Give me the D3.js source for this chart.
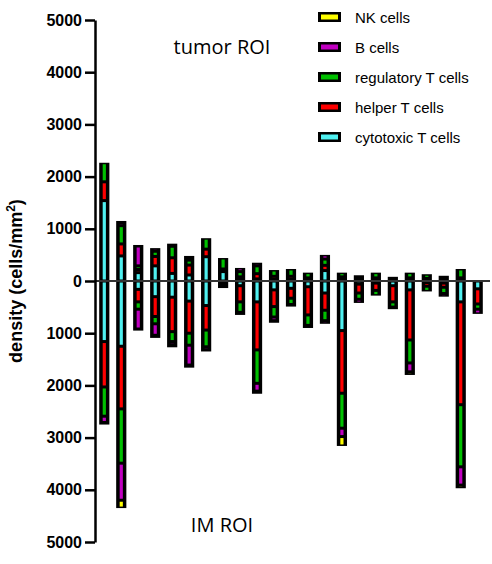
<!DOCTYPE html>
<html><head><meta charset="utf-8">
<script src="https://cdn.jsdelivr.net/npm/d3@7"></script>
<style>body{margin:0;background:#fff}</style></head>
<body><svg id="c" width="492" height="564"></svg>
<script>
const cellTypes = ["cytotoxic T cells","helper T cells","regulatory T cells","B cells","NK cells"];
const colors = ["#4ff0f0","#ff0000","#00c000","#c000c0","#ffff00"];
const samples = d3.range(1,24).map(String);
// tumor ROI (up) per sample: [cytotoxic, helper, regulatory, B, NK]
const tumor = [
 [1540,360,365,0,0],[480,230,350,60,30],[160,60,70,380,20],[290,180,100,60,0],
 [145,300,220,50,0],[115,190,95,50,30],[465,145,210,0,0],[180,50,210,0,0],
 [40,40,100,70,0],[40,100,150,60,0],[30,60,120,0,0],[30,60,140,0,0],
 [20,40,100,0,0],[200,100,120,80,0],[30,50,80,0,0],[30,30,50,0,0],
 [20,40,100,0,0],[30,20,30,0,0],[20,40,100,0,0],[20,30,80,0,0],
 [20,30,50,0,0],[20,40,170,0,0],[0,0,0,0,0]];
// IM ROI (down)
const im = [
 [1160,870,560,120,40],[1250,1200,1040,710,150],[160,240,140,380,30],[300,380,140,220,50],
 [310,660,190,60,50],[385,615,230,380,50],[470,470,320,60,30],[30,50,55,0,0],
 [90,310,200,50,0],[400,920,640,150,50],[170,320,200,70,40],[140,190,120,40,0],
 [110,540,200,50,0],[230,330,200,60,0],[950,1200,670,160,180],[60,170,120,70,0],
 [40,140,100,0,0],[90,310,100,40,0],[170,960,440,170,60],[30,70,100,0,0],
 [40,80,120,60,0],[400,1970,1190,350,60],[150,290,100,90,0]];
const yTicks = [5000,4000,3000,2000,1000,0,-1000,-2000,-3000,-4000,-5000];

const svg = d3.select("#c");
const y = d3.scaleLinear().domain([-5000,5000]).range([542,20]);
const x = d3.scaleBand().domain(samples).range([97.5,484.5]).paddingInner(0.4).paddingOuter(0.1);

function drawStack(vals, sign){
  const g = svg.append("g");
  vals.forEach((row,i)=>{
    let cum = 0;
    const x0 = x(samples[i]), w = x.bandwidth();
    const total = d3.sum(row);
    if(total>0) g.append("rect").attr("x",x0).attr("width",w)
      .attr("y",Math.min(y(0),y(sign*total))).attr("height",Math.abs(y(sign*total)-y(0))).attr("fill","#000");
    row.forEach((v,k)=>{
      if(v<=0){return;}
      const a = y(sign*cum), b = y(sign*(cum+v));
      cum += v;
      const top = Math.min(a,b), h = Math.abs(a-b);
      if(h>3) g.append("rect").attr("x",x0+3.5).attr("width",w-7)
        .attr("y",top+1.5).attr("height",h-3).attr("fill",colors[k]);
    });
  });
}
drawStack(tumor,1);
drawStack(im,-1);

// zero line
svg.append("line").attr("x1",95).attr("x2",490).attr("y1",y(0)).attr("y2",y(0))
  .attr("stroke","#333").attr("stroke-width",2);

const ax = svg.append("g").attr("transform","translate(95,0)")
  .call(d3.axisLeft(y).tickValues(yTicks).tickFormat(d=>Math.abs(d)).tickSize(10).tickSizeOuter(0));
ax.select(".domain").attr("stroke","#000").attr("stroke-width",2.5);
ax.selectAll(".tick line").attr("stroke","#000").attr("stroke-width",2.5);
ax.selectAll(".tick text").attr("font-family","Liberation Sans, Arial, sans-serif")
  .attr("font-weight","bold").attr("font-size",16).attr("fill","#000").attr("x",-13);

svg.append("text").attr("transform","translate(22,281) rotate(-90)").attr("text-anchor","middle")
  .attr("font-family","Liberation Sans, Arial, sans-serif").attr("font-weight","bold").attr("font-size",18)
  .html('density (cells/mm<tspan baseline-shift="super" font-size="12">2</tspan>)');

svg.append("text").attr("x",222).attr("y",54).attr("text-anchor","middle")
  .attr("font-family","Open Sans, sans-serif").attr("font-size",20).text("tumor ROI");
svg.append("text").attr("x",222).attr("y",532).attr("text-anchor","middle")
  .attr("font-family","Open Sans, sans-serif").attr("font-size",20).text("IM ROI");

const legendOrder = [4,3,2,1,0];
legendOrder.forEach((k,j)=>{
  const cy = 17 + j*30;
  svg.append("rect").attr("x",318).attr("y",cy-5).attr("width",23).attr("height",10).attr("fill","#000");
  svg.append("rect").attr("x",321).attr("y",cy-2.5).attr("width",17).attr("height",5).attr("fill",colors[k]);
  svg.append("text").attr("x",355).attr("y",cy+5.5).attr("font-family","Liberation Sans, Arial, sans-serif")
    .attr("font-size",15).text(cellTypes[k]);
});
</script></body></html>
